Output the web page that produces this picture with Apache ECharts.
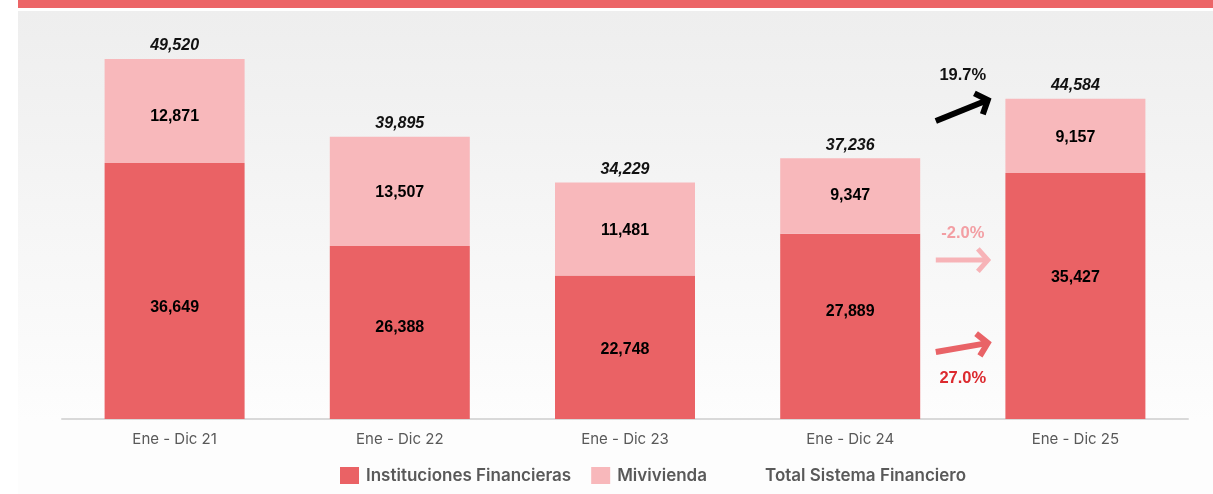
<!DOCTYPE html>
<html>
<head>
<meta charset="utf-8">
<script src="https://cdn.jsdelivr.net/npm/echarts@6/dist/echarts.min.js"></script>
<style>html,body{margin:0;padding:0;background:#ffffff;}#c{width:1213px;height:494px;}</style>
</head>
<body>
<div id="c"></div>
<script>
const categories = ['Ene - Dic 21', 'Ene - Dic 22', 'Ene - Dic 23', 'Ene - Dic 24', 'Ene - Dic 25'];
const instituciones = [36649, 26388, 22748, 27889, 35427];
const mivivienda = [12871, 13507, 11481, 9347, 9157];
const totales = [49520, 39895, 34229, 37236, 44584];
const seriesNames = ['Instituciones Financieras', 'Mivivienda', 'Total Sistema Financiero'];
// growth annotations between the last two periods
const growthLabels = ['19.7%', '-2.0%', '27.0%'];
const arrowStartVals = [41835, 24650, 13280];
const arrowEndVals = [44430, 24650, 14390];
const labelVals = [47520, 27990, 10070];

// presentation only (kept apart from the data): label nudges seen in the reference
const instNudge = [17, -5, 2, -15, -18];
const miviNudge = [6, 1, 2, 0, 2];
const growthColors = ['#000000', '#f7b3b7', '#e96367'];
const growthTextColors = ['#111111', '#f39ea3', '#dc2a2f'];

const fmt = v => v.toLocaleString('en-US');
const chart = echarts.init(document.getElementById('c'), null, {renderer: 'canvas'});

const baseGraphics = [
  {type: 'rect', left: 18, top: 11, shape: {width: 1195, height: 483}, silent: true, z: -10,
    style: {fill: new echarts.graphic.LinearGradient(0, 0, 0, 1, [
      {offset: 0, color: '#eeeeee'}, {offset: 0.85, color: '#fdfdfd'}, {offset: 1, color: '#fdfdfd'}])}},
  {type: 'rect', left: 18, top: 0, shape: {width: 1195, height: 8}, silent: true, z: -9,
    style: {fill: '#ec6567'}}
];

const valueLabel = {show: true, position: 'inside', formatter: p => fmt(p.value), color: '#000',
  fontWeight: 'bold', fontSize: 16, fontFamily: 'Liberation Sans, Arial, sans-serif'};

chart.setOption({
  animation: false,
  backgroundColor: '#ffffff',
  textStyle: {fontFamily: 'Liberation Sans, Arial, sans-serif'},
  grid: {left: 62, right: 25, top: 55, bottom: 75},
  legend: {
    left: 335, top: 462, itemWidth: 19, itemHeight: 17, itemGap: 20,
    textStyle: {fontFamily: 'Inter', fontSize: 17, fontWeight: 600, color: '#595959', padding: [0, 0, 0, 2]},
    data: [
      {name: seriesNames[0], icon: 'rect', itemStyle: {color: '#ea6265'}},
      {name: seriesNames[1], icon: 'rect', itemStyle: {color: '#f8b8bb'}},
      {name: seriesNames[2], icon: 'rect', itemStyle: {color: 'rgba(0,0,0,0)', borderWidth: 0},
        textStyle: {padding: [0, 0, 0, 14]}}
    ]
  },
  xAxis: {
    type: 'category', data: categories,
    axisLine: {lineStyle: {color: '#d9d9d9', width: 2}},
    axisTick: {show: false},
    axisLabel: {color: '#595959', fontFamily: 'Inter', fontSize: 15, margin: 13}
  },
  yAxis: {type: 'value', min: 5000, max: 50000, show: false, splitLine: {show: false}},
  series: [
    {name: seriesNames[0], type: 'bar', stack: 't', barWidth: 140,
      data: instituciones.map((v, i) => ({value: v, label: {offset: [0, instNudge[i]]}})),
      itemStyle: {color: '#ea6265'},
      label: valueLabel},
    {name: seriesNames[1], type: 'bar', stack: 't', barWidth: 140,
      data: mivivienda.map((v, i) => ({value: v, label: {offset: [0, miviNudge[i]]}})),
      itemStyle: {color: '#f8b8bb'},
      label: valueLabel},
    {name: seriesNames[2], type: 'line', data: totales, symbol: 'circle', symbolSize: 0, showSymbol: true,
      lineStyle: {width: 0, opacity: 0}, itemStyle: {color: 'rgba(0,0,0,0)'},
      label: {show: true, position: 'top', distance: 5, formatter: p => fmt(p.value), color: '#111',
        fontWeight: 'bold', fontStyle: 'italic', fontSize: 16}}
  ],
  graphic: baseGraphics
});

// annotation arrows anchored through the chart's own scales
const x3 = chart.convertToPixel({xAxisIndex: 0}, 3);
const x4 = chart.convertToPixel({xAxisIndex: 0}, 4);
const mid = (x3 + x4) / 2;
const extra = [];
for (let i = 0; i < growthLabels.length; i++) {
  const sx = mid - 27, ex = mid + 25;
  const sy = chart.convertToPixel({yAxisIndex: 0}, arrowStartVals[i]);
  const ey = chart.convertToPixel({yAxisIndex: 0}, arrowEndVals[i]);
  const ly = chart.convertToPixel({yAxisIndex: 0}, labelVals[i]);
  const ang = Math.atan2(ey - sy, ex - sx);
  const hl = 15, ha = Math.PI * 0.27;
  const p1 = [ex - hl * Math.cos(ang - ha), ey - hl * Math.sin(ang - ha)];
  const p2 = [ex - hl * Math.cos(ang + ha), ey - hl * Math.sin(ang + ha)];
  const w = i === 1 ? 5 : 6;
  extra.push({type: 'line', shape: {x1: sx, y1: sy, x2: ex - 2 * Math.cos(ang), y2: ey - 2 * Math.sin(ang)},
    style: {stroke: growthColors[i], lineWidth: w}, silent: true, z: 10});
  extra.push({type: 'polyline', shape: {points: [p1, [ex, ey], p2]},
    style: {stroke: growthColors[i], lineWidth: w, fill: null, lineJoin: 'miter'}, silent: true, z: 10});
  extra.push({type: 'text', x: mid, y: ly, silent: true, z: 10,
    style: {text: growthLabels[i], fill: growthTextColors[i], fontWeight: 'bold', fontSize: 16.5,
      fontFamily: 'Liberation Sans, Arial, sans-serif', align: 'center', verticalAlign: 'middle'}});
}
chart.setOption({graphic: baseGraphics.concat(extra)});
</script>
</body>
</html>
